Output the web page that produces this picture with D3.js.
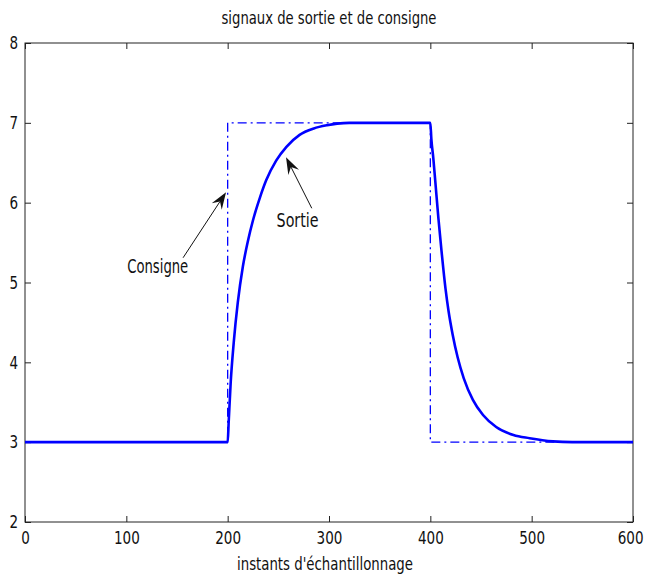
<!DOCTYPE html>
<html>
<head>
<meta charset="utf-8">
<script src="https://cdn.jsdelivr.net/npm/d3@7"></script>
<style>
  html, body { margin: 0; padding: 0; background: #fff; }
  svg text { font-family: "Liberation Sans Narrow", "Arial Narrow", "DejaVu Sans Condensed", sans-serif; fill: #111; }
</style>
</head>
<body>
<svg id="chart" width="648" height="576"></svg>
<script>
// ---- data ----
const titleText = "signaux de sortie et de consigne";
const xLabel = "instants d'échantillonnage";
const xTicks = [0, 100, 200, 300, 400, 500, 600];
const yTicks = [2, 3, 4, 5, 6, 7, 8];

const consigneT = [0, 200, 200, 400, 400, 600];
const consigneV = [3, 3, 7, 7, 3, 3];

const sortieT = [0, 200, 201, 203, 206, 210, 215, 220, 225, 232, 238, 248, 258, 271, 285, 298, 308, 320, 400,
                 401, 403, 405, 408, 411, 415, 418, 422, 427, 433, 442, 452, 465, 482, 498, 521, 540, 600];
const sortieV = [3, 3, 3.25, 3.75, 4.25, 4.75, 5.2, 5.52, 5.78, 6.07, 6.28, 6.53, 6.70, 6.85, 6.93, 6.97, 6.99, 7.0, 7.0,
                 6.8, 6.55, 6.25, 5.8, 5.4, 4.92, 4.64, 4.35, 4.06, 3.8, 3.53, 3.34, 3.19, 3.09, 3.05, 3.01, 3.0, 3.0];

// annotations in data coordinates
const annLabels = ["Consigne", "Sortie"];
const annTextPos = [[131, 5.12], [269, 5.7]];      // text centre x, baseline y
const annArrowFrom = [[156, 5.31], [283, 5.93]];
const annArrowTo = [[198.4, 6.13], [257.6, 6.57]];

// ---- layout ----
const margin = { left: 25, right: 15, top: 43, bottom: 54 };
const W = 648, H = 576;
const svg = d3.select("#chart");
const x = d3.scaleLinear().domain([0, 600]).range([margin.left, W - margin.right]);
const y = d3.scaleLinear().domain([2, 8]).range([H - margin.bottom, margin.top]);

const axisColor = "#222";
const tickLen = 6;
const fontStack = '"Liberation Sans Narrow", "Arial Narrow", "DejaVu Sans Condensed", sans-serif';

// frame
svg.append("rect")
  .attr("x", x(0)).attr("y", y(8))
  .attr("width", x(600) - x(0)).attr("height", y(2) - y(8))
  .attr("fill", "none").attr("stroke", axisColor).attr("stroke-width", 1);

// axes with inward ticks
const fs = 18;
const bottomAxis = d3.axisBottom(x).tickValues(xTicks).tickSize(-tickLen).tickPadding(9).tickFormat(d3.format("d"));
const topAxis = d3.axisTop(x).tickValues(xTicks).tickSize(-tickLen).tickFormat("");
const leftAxis = d3.axisLeft(y).tickValues(yTicks).tickSize(-tickLen).tickPadding(7).tickFormat(d3.format("d"));
const rightAxis = d3.axisRight(y).tickValues(yTicks).tickSize(-tickLen).tickFormat("");

function styleAxis(g) {
  g.select(".domain").remove();
  g.selectAll(".tick line").attr("stroke", axisColor);
  g.selectAll(".tick text").attr("font-size", fs).attr("fill", "#111")
    .style("font-family", fontStack)
    .each(function () {
      const s = d3.select(this);
      const n = s.text().length;
      if (n) s.attr("textLength", n * 8.6).attr("lengthAdjust", "spacingAndGlyphs");
    });
}
const gBottom = svg.append("g").attr("transform", `translate(0,${y(2)})`).call(bottomAxis).call(styleAxis);
svg.append("g").attr("transform", `translate(0,${y(8)})`).call(topAxis).call(styleAxis);
svg.append("g").attr("transform", `translate(${x(0)},0)`).call(leftAxis).call(styleAxis);
svg.append("g").attr("transform", `translate(${x(600)},0)`).call(rightAxis).call(styleAxis);

// keep the last x label inside the canvas: right-align it near the canvas edge
gBottom.selectAll(".tick text")
  .filter(d => d === xTicks[xTicks.length - 1])
  .attr("text-anchor", "end")
  .attr("x", W - 5 - x(xTicks[xTicks.length - 1]));

// title and axis label
svg.append("text").attr("x", (x(0) + x(600)) / 2).attr("y", 24)
  .attr("text-anchor", "middle").attr("font-size", 17)
  .attr("textLength", 215).attr("lengthAdjust", "spacingAndGlyphs")
  .text(titleText);
svg.append("text").attr("x", (x(0) + x(600)) / 2 - 4).attr("y", 570)
  .attr("text-anchor", "middle").attr("font-size", 18)
  .attr("textLength", 176).attr("lengthAdjust", "spacingAndGlyphs")
  .text(xLabel);

// lines
const pts = (T, V) => T.map((t, i) => [t, V[i]]);
const lineLin = d3.line().x(d => x(d[0])).y(d => y(d[1]));
const lineSmooth = d3.line().x(d => x(d[0])).y(d => y(d[1])).curve(d3.curveMonotoneX);

svg.append("path").datum(pts(consigneT, consigneV))
  .attr("d", lineLin).attr("fill", "none").attr("stroke", "#0000ff")
  .attr("stroke-width", 1.3).attr("stroke-dasharray", "9,4,2,4");

svg.append("path").datum(pts(sortieT, sortieV))
  .attr("d", lineSmooth).attr("fill", "none").attr("stroke", "#0000ff")
  .attr("stroke-width", 2.6).attr("stroke-linejoin", "round");

// annotations
annLabels.forEach((lab, i) => {
  const [x0, y0] = [x(annArrowFrom[i][0]), y(annArrowFrom[i][1])];
  const [x1, y1] = [x(annArrowTo[i][0]), y(annArrowTo[i][1])];
  const ang = Math.atan2(y1 - y0, x1 - x0);
  const L = 17, Wd = 6, back = 11;
  const bx = x1 - back * Math.cos(ang), by = y1 - back * Math.sin(ang);
  svg.append("line").attr("x1", x0).attr("y1", y0).attr("x2", bx).attr("y2", by)
    .attr("stroke", "#111").attr("stroke-width", 1);
  const p = (d, s) => [x1 - d * Math.cos(ang) - s * Math.sin(ang), y1 - d * Math.sin(ang) + s * Math.cos(ang)];
  const a = p(L, Wd), b = p(back, 0), c = p(L, -Wd);
  svg.append("path").attr("d", `M${x1},${y1}L${a[0]},${a[1]}L${b[0]},${b[1]}L${c[0]},${c[1]}Z`)
    .attr("fill", "#111");
  svg.append("text").attr("x", x(annTextPos[i][0])).attr("y", y(annTextPos[i][1]))
    .attr("text-anchor", "middle").attr("font-size", 19)
    .attr("textLength", i === 0 ? 61 : 42).attr("lengthAdjust", "spacingAndGlyphs")
    .text(lab);
});
</script>
</body>
</html>
